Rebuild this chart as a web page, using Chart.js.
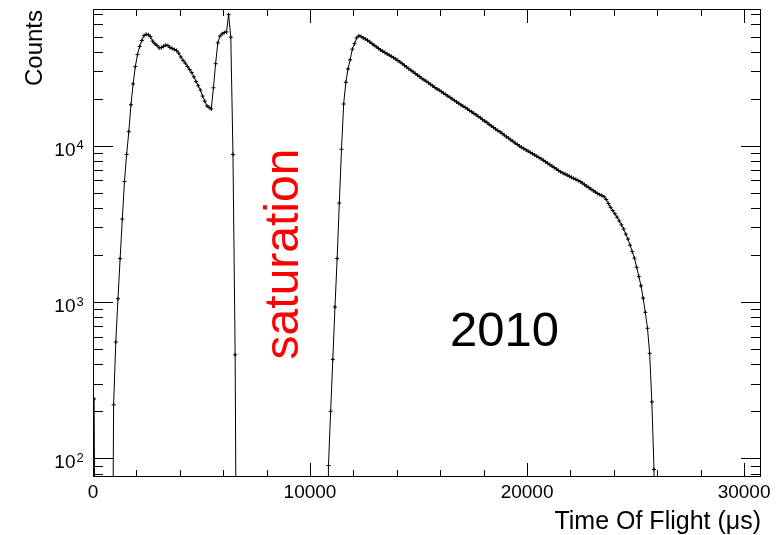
<!DOCTYPE html>
<html>
<head>
<meta charset="utf-8">
<title>Time Of Flight 2010</title>
<script src="https://cdn.jsdelivr.net/npm/chart.js"></script>
<style>
  html, body { margin: 0; padding: 0; background: #fff; }
  canvas { display: block; }
</style>
</head>
<body>
<canvas id="tof" width="784" height="535"></canvas>
<script>
// histogram binning (µs)
const binWidth = 100;

// counts per bin, first bin centred at 50 µs
const counts = [
  240,
  0, 0, 0, 0, 0, 0, 0, 0,
  220, 555, 1050, 1900, 3400, 5900, 8800, 12300, 18300, 24900,
  32100, 38300, 43200, 47100, 50700, 51700, 51300, 49800, 46700, 45000,
  43800, 42300, 42500, 43300, 44000, 43800, 42500, 41900, 41300, 40700,
  39100, 37000, 35200, 33800, 32200, 30800, 29400, 27600, 25700, 24200,
  22700, 20800, 19300, 18000, 17600, 17200, 23500, 33500, 45500, 50300,
  52000, 53000, 53500, 69000, 49500, 8800, 460,
  0, 0, 0, 0, 0, 0, 0, 0, 0, 0, 0, 0, 0, 0, 0, 0, 0, 0, 0, 0, 0,
  0, 0, 0, 0, 0, 0, 0, 0, 0, 0, 0, 0, 0, 0, 0, 0, 0, 0, 0, 0, 0,
  90, 200, 430, 930, 1900, 4300, 9500, 18500, 25500, 31000,
  35500, 41500, 45000, 49000, 50500, 50000, 49000, 48200,
  47300, 46200, 45100, 44000, 43000, 42000, 41000, 40300, 39500, 38700,
  38000, 37300, 36600, 35900, 35100, 34300, 33500, 32700, 31900, 31100,
  30400, 29700, 29000, 28300, 27700, 27000, 26400, 25900, 25300, 24700,
  24200, 23600, 23100, 22700, 22200, 21700, 21300, 20800, 20400, 19900,
  19500, 19100, 18700, 18300, 17900, 17600, 17200, 16800, 16500, 16100,
  15800, 15400, 15100, 14700, 14400, 14100, 13700, 13400, 13100, 12800,
  12500, 12300, 12000, 11700, 11400, 11200, 10900, 10700, 10400, 10200,
  9970, 9770, 9590, 9410, 9240, 9070, 8900, 8740, 8570, 8410,
  8250, 8070, 7900, 7730, 7570, 7410, 7250, 7100, 6950, 6810,
  6700, 6590, 6490, 6380, 6280, 6180, 6090, 5990, 5890, 5770,
  5640, 5510, 5400, 5270, 5160, 5050, 4950, 4870, 4800, 4720,
  4530, 4270, 4040, 3850, 3670, 3490, 3300, 3120, 2940, 2720,
  2530, 2310, 2100, 1910, 1670, 1460, 1270, 1060, 860, 680,
  470, 230, 85, 0, 0
];

// axis ranges and ticks
const xRange = [0, 30780];
const yRange = [76, 75000];
const xMajorTicks = [0, 10000, 20000, 30000];
const xTickLabels = ['0', '10000', '20000', '30000'];
const xMinorStep = 2000;
const yMajorTicks = [100, 1000, 10000];
const yTickExponents = ['2', '3', '4'];

const FONT = '"Liberation Sans", Arial, Helvetica, sans-serif';

// empty bins sit below the log axis, the line drops out of the frame there
var points = counts.map(function (c, i) {
  return { x: (i + 0.5) * binWidth, y: c > 0 ? c : 1 };
});

// frame with inward ticks on all four sides, labels and annotations
const rootFrame = {
  id: 'rootFrame',
  afterDraw(chart) {
    const ctx = chart.ctx;
    const a = chart.chartArea;
    const x = chart.scales.x;
    const y = chart.scales.y;
    ctx.save();
    ctx.strokeStyle = '#000';
    ctx.lineWidth = 1;
    ctx.beginPath();
    for (let v = 0; v <= x.max; v += xMinorStep) {
      const px = Math.round(x.getPixelForValue(v)) + 0.5;
      const len = xMajorTicks.includes(v) ? 14 : 7;
      ctx.moveTo(px, a.bottom); ctx.lineTo(px, a.bottom - len);
      ctx.moveTo(px, a.top); ctx.lineTo(px, a.top + len);
    }
    for (let e = 1; e <= 4; e++) {
      for (let d = 1; d <= 9; d++) {
        const v = d * Math.pow(10, e);
        if (v < y.min || v > y.max) continue;
        const py = Math.round(y.getPixelForValue(v)) + 0.5;
        const len = d === 1 ? 20 : 10;
        ctx.moveTo(a.left, py); ctx.lineTo(a.left + len, py);
        ctx.moveTo(a.right, py); ctx.lineTo(a.right - len, py);
      }
    }
    ctx.stroke();
    ctx.strokeRect(a.left + 0.5, a.top + 0.5, a.right - a.left - 1, a.bottom - a.top - 1);

    // tick labels
    ctx.fillStyle = '#000';
    ctx.textBaseline = 'alphabetic';
    ctx.font = '19px ' + FONT;
    ctx.textAlign = 'center';
    xMajorTicks.forEach(function (v, i) {
      ctx.fillText(xTickLabels[i], x.getPixelForValue(v), 498);
    });
    yMajorTicks.forEach(function (v, i) {
      const py = y.getPixelForValue(v);
      ctx.font = '19px ' + FONT;
      ctx.textAlign = 'right';
      ctx.fillText('10', 75.5, py + 10);
      ctx.font = '13px ' + FONT;
      ctx.textAlign = 'left';
      ctx.fillText(yTickExponents[i], 76.5, py + 3.5);
    });

    // axis titles
    ctx.font = '25px ' + FONT;
    ctx.textAlign = 'right';
    ctx.fillText('Time Of Flight (\u03bcs)', a.right, 529);
    ctx.save();
    ctx.font = '24px ' + FONT;
    ctx.translate(42, a.top + 1);
    ctx.rotate(-Math.PI / 2);
    ctx.fillText('Counts', 0, 0);
    ctx.restore();

    // annotations
    ctx.font = '49px ' + FONT;
    ctx.textAlign = 'left';
    ctx.fillText('2010', 450, 346);
    ctx.save();
    ctx.fillStyle = '#ff0000';
    ctx.font = '48px ' + FONT;
    ctx.translate(298, 254);
    ctx.rotate(-Math.PI / 2);
    ctx.textAlign = 'center';
    ctx.fillText('saturation', 0, 0);
    ctx.restore();
    ctx.restore();
  }
};

new Chart(document.getElementById('tof'), {
  type: 'line',
  data: {
    datasets: [{
      data: points,
      borderColor: '#000',
      borderWidth: 1,
      tension: 0,
      fill: false,
      pointStyle: 'cross',
      pointBorderColor: '#000',
      pointBorderWidth: 1,
      pointRadius: function (c) { return counts[c.dataIndex] > 0 ? 2 : 0; }
    }]
  },
  options: {
    responsive: false,
    animation: false,
    layout: { padding: { left: 93, top: 9, right: 23, bottom: 58 } },
    scales: {
      x: { type: 'linear', min: xRange[0], max: xRange[1], display: false },
      y: { type: 'logarithmic', min: yRange[0], max: yRange[1], display: false }
    },
    plugins: { legend: { display: false }, tooltip: { enabled: false } }
  },
  plugins: [rootFrame]
});
</script>
</body>
</html>
